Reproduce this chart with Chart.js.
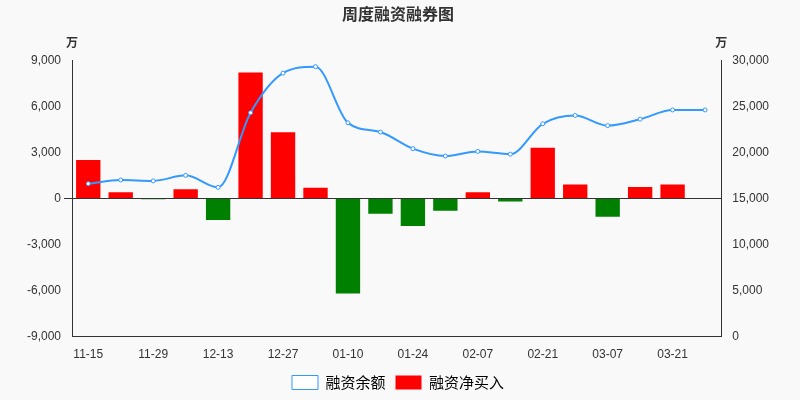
<!DOCTYPE html>
<html><head><meta charset="utf-8">
<script src="https://cdn.jsdelivr.net/npm/chart.js@4/dist/chart.umd.min.js"></script>
<style>body{margin:0;background:#f9f9f9}#wrap{width:800px;height:400px}</style>
</head><body><div id="wrap"><canvas id="chart"></canvas></div>
<script>
const dates = ["11-15","11-22","11-29","12-06","12-13","12-20","12-27","01-03","01-10","01-17","01-24","01-31","02-07","02-14","02-21","02-28","03-07","03-14","03-21","03-28"];
const netBuy = [2500,400,-50,600,-1400,8200,4300,700,-6200,-1000,-1800,-800,400,-200,3300,900,-1200,750,900,20];
const balance = [16600,17000,16900,17500,16200,24300,28600,29300,23200,22200,20400,19600,20100,19800,23100,24000,22900,23600,24600,24600];

const units = {
    id: "units",
    afterDraw(chart) {
        const c = chart.ctx;
        c.save();
        c.font = "bold 12px 'Noto Sans CJK SC'";
        c.fillStyle = "#333";
        c.textAlign = "center";
        c.fillText("万", chart.scales.y.right, 42);
        c.fillText("万", chart.scales.y1.left, 42);
        c.restore();
    }
};

new Chart(document.getElementById("chart"), {
    data: {
        labels: dates,
        datasets: [{
            type: "line",
            label: "融资余额",
            data: balance,
            yAxisID: "y1",
            borderColor: "#3399ff",
            backgroundColor: "#fff",
            borderWidth: 2,
            pointRadius: 2,
            pointBorderWidth: 1,
            cubicInterpolationMode: "monotone",
            order: 0
        }, {
            type: "bar",
            label: "融资净买入",
            data: netBuy,
            yAxisID: "y",
            backgroundColor: netBuy.map(v => v >= 0 ? "#ff0000" : "#008000"),
            categoryPercentage: 0.75,
            barPercentage: 1,
            order: 1
        }]
    },
    options: {
        animation: false,
        responsive: true,
        maintainAspectRatio: false,
        layout: {padding: {left: 24, right: 28, top: 0, bottom: 0}},
        plugins: {
            title: {display: true, text: "周度融资融券图", color: "#333", font: {size: 16, weight: "bold", family: "'Noto Sans CJK SC'"}, padding: {top: 4, bottom: 37}},
            legend: {
                position: "bottom",
                labels: {
                    color: "#333",
                    boxWidth: 26,
                    boxHeight: 14,
                    font: {size: 15, family: "'Noto Sans CJK SC'"},
                    generateLabels: () => [
                        {text: "融资余额", fillStyle: "#fff", strokeStyle: "#3399ff", lineWidth: 1, datasetIndex: 0},
                        {text: "融资净买入", fillStyle: "#ff0000", strokeStyle: "#ff0000", lineWidth: 0, datasetIndex: 1}
                    ]
                }
            },
            tooltip: {enabled: false}
        },
        scales: {
            x: {
                grid: {display: false},
                border: {color: "#333"},
                ticks: {color: "#333", font: {size: 12}, maxRotation: 0, autoSkip: false,
                    callback: (v, i) => i % 2 === 0 ? dates[i] : ""}
            },
            y: {
                position: "left",
                min: -9000, max: 9000,
                ticks: {stepSize: 3000, color: "#333", font: {size: 12}, callback: v => v.toLocaleString("en-US")},
                grid: {color: ctx => ctx.tick && ctx.tick.value === 0 ? "#333" : "transparent", drawTicks: true},
                border: {color: "#333"}
            },
            y1: {
                position: "right",
                min: 0, max: 30000,
                ticks: {stepSize: 5000, color: "#333", font: {size: 12}, callback: v => v.toLocaleString("en-US")},
                grid: {display: false},
                border: {color: "#333"}
            }
        }
    },
    plugins: [units]
});
</script></body></html>
